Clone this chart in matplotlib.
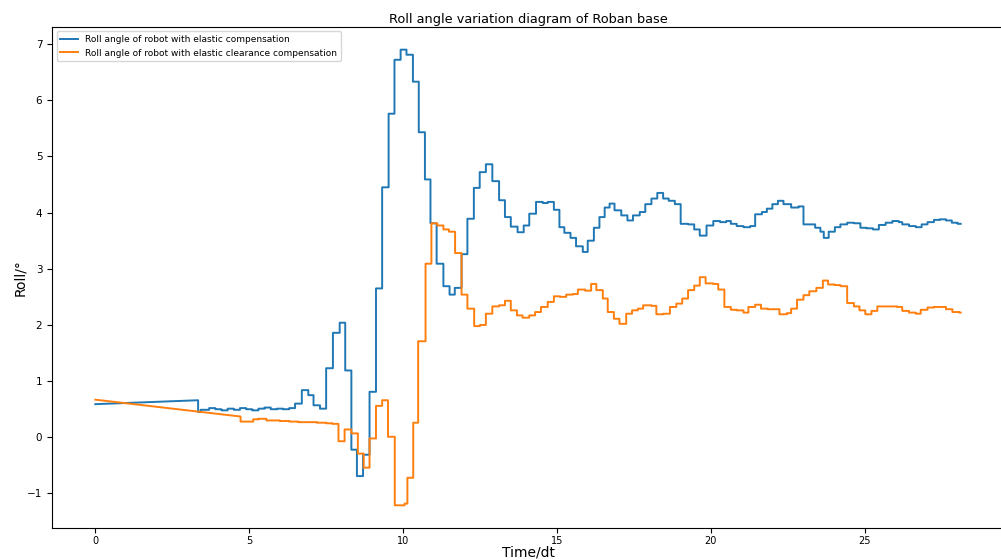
import matplotlib
matplotlib.use('Agg')
import matplotlib.pyplot as plt
import numpy as np

# roll angle of the base, held between IMU updates
# blue: elastic compensation, orange: elastic clearance compensation
blue_ramp_t = [0.0, 3.34]
blue_ramp_v = [0.59, 0.66]
blue_step_t = [3.34, 3.42, 3.70, 3.90, 4.10, 4.30, 4.50, 4.70, 4.90, 5.10,
               5.30, 5.50, 5.70, 5.90, 6.10, 6.30, 6.49, 6.71, 6.92, 7.09,
               7.30, 7.50, 7.72, 7.94, 8.12, 8.32, 8.50, 8.70, 8.91, 9.12,
               9.32, 9.53, 9.72, 9.92, 10.11, 10.32, 10.51, 10.71, 10.89, 11.09,
               11.31, 11.51, 11.68, 11.90, 12.09, 12.30, 12.49, 12.69, 12.90, 13.12,
               13.31, 13.50, 13.72, 13.92, 14.10, 14.32, 14.54, 14.70, 14.90, 15.08,
               15.24, 15.44, 15.62, 15.84, 16.00, 16.20, 16.38, 16.55, 16.71, 16.87,
               17.09, 17.29, 17.47, 17.69, 17.87, 18.07, 18.26, 18.45, 18.63, 18.83,
               19.02, 19.26, 19.46, 19.64, 19.86, 20.08, 20.30, 20.50, 20.65, 20.84,
               21.06, 21.28, 21.44, 21.66, 21.82, 22.00, 22.18, 22.36, 22.61, 22.85,
               23.01, 23.39, 23.56, 23.67, 23.83, 24.03, 24.21, 24.43, 24.65, 24.86,
               25.06, 25.27, 25.46, 25.68, 25.90, 26.11, 26.22, 26.44, 26.66, 26.85,
               27.04, 27.25, 27.44, 27.64, 27.83, 28.02]
blue_step_v = [0.45, 0.49, 0.52, 0.50, 0.48, 0.51, 0.49, 0.52, 0.50, 0.48,
               0.51, 0.53, 0.50, 0.51, 0.50, 0.52, 0.60, 0.84, 0.75, 0.57,
               0.51, 1.23, 1.86, 2.04, 1.19, -0.22, -0.69, -0.31, 0.81, 2.65,
               4.45, 5.76, 6.72, 6.90, 6.81, 6.33, 5.43, 4.59, 3.81, 3.09,
               2.69, 2.54, 2.66, 3.26, 3.89, 4.44, 4.72, 4.86, 4.56, 4.22,
               3.92, 3.75, 3.65, 3.77, 3.98, 4.19, 4.17, 4.19, 4.05, 3.74,
               3.64, 3.55, 3.40, 3.30, 3.50, 3.73, 3.92, 4.09, 4.16, 4.04,
               3.95, 3.86, 3.95, 4.01, 4.15, 4.25, 4.35, 4.25, 4.21, 4.15,
               3.80, 3.79, 3.70, 3.59, 3.77, 3.85, 3.83, 3.85, 3.80, 3.76,
               3.74, 3.76, 3.97, 4.01, 4.07, 4.15, 4.21, 4.15, 4.09, 4.11,
               3.79, 3.73, 3.66, 3.55, 3.66, 3.74, 3.79, 3.82, 3.81, 3.73,
               3.72, 3.70, 3.78, 3.82, 3.85, 3.83, 3.79, 3.76, 3.74, 3.79,
               3.83, 3.87, 3.88, 3.86, 3.82, 3.80]
blue_end = 28.12

orange_ramp_t = [0.0, 4.72]
orange_ramp_v = [0.67, 0.37]
orange_step_t = [4.72, 5.13, 5.30, 5.56, 5.80, 6.00, 6.30, 6.60, 6.90, 7.20,
                 7.50, 7.70, 7.90, 8.10, 8.32, 8.53, 8.72, 8.91, 9.12, 9.32,
                 9.51, 9.73, 10.05, 10.14, 10.33, 10.49, 10.73, 10.92, 11.11, 11.31,
                 11.49, 11.69, 11.90, 12.09, 12.31, 12.50, 12.69, 12.90, 13.12, 13.31,
                 13.50, 13.70, 13.88, 14.10, 14.29, 14.48, 14.70, 14.90, 15.10, 15.30,
                 15.52, 15.68, 15.92, 16.11, 16.28, 16.49, 16.65, 16.85, 17.03, 17.25,
                 17.44, 17.63, 17.80, 18.07, 18.23, 18.45, 18.67, 18.88, 19.07, 19.26,
                 19.46, 19.64, 19.83, 20.08, 20.24, 20.44, 20.65, 20.84, 21.06, 21.22,
                 21.44, 21.63, 21.85, 22.04, 22.23, 22.47, 22.61, 22.80, 23.01, 23.20,
                 23.43, 23.64, 23.81, 24.03, 24.21, 24.43, 24.65, 24.83, 25.02, 25.22,
                 25.41, 25.63, 25.84, 26.06, 26.22, 26.44, 26.66, 26.82, 27.04, 27.25,
                 27.44, 27.64, 27.85, 28.07]
orange_step_v = [0.28, 0.32, 0.33, 0.30, 0.30, 0.29, 0.28, 0.27, 0.27, 0.26,
                 0.25, 0.24, -0.07, 0.14, 0.07, -0.29, -0.54, -0.02, 0.56, 0.66,
                 0.01, -1.21, -1.18, -0.72, 0.26, 1.71, 3.09, 3.81, 3.77, 3.70,
                 3.66, 3.28, 2.54, 2.29, 1.98, 2.00, 2.20, 2.33, 2.35, 2.43,
                 2.26, 2.17, 2.13, 2.17, 2.23, 2.32, 2.41, 2.51, 2.50, 2.54,
                 2.55, 2.63, 2.61, 2.73, 2.62, 2.47, 2.23, 2.11, 2.02, 2.20,
                 2.26, 2.29, 2.35, 2.34, 2.19, 2.20, 2.32, 2.38, 2.47, 2.62,
                 2.70, 2.85, 2.74, 2.73, 2.63, 2.32, 2.27, 2.26, 2.22, 2.32,
                 2.36, 2.29, 2.28, 2.28, 2.19, 2.21, 2.29, 2.45, 2.53, 2.60,
                 2.66, 2.79, 2.72, 2.71, 2.69, 2.39, 2.33, 2.26, 2.19, 2.25,
                 2.33, 2.33, 2.33, 2.32, 2.25, 2.22, 2.20, 2.27, 2.31, 2.32,
                 2.32, 2.28, 2.23, 2.22]
orange_end = 28.12


def held_series(ramp_t, ramp_v, step_t, step_v, t_end):
    # linear gap at the start, then zero-order hold
    edges = list(step_t[1:]) + [t_end]
    x = list(ramp_t)
    y = list(ramp_v)
    for t0, t1, v in zip(step_t, edges, step_v):
        x += [t0, t1]
        y += [v, v]
    return np.array(x), np.array(y)


bx, by = held_series(blue_ramp_t, blue_ramp_v, blue_step_t, blue_step_v, blue_end)
ox, oy = held_series(orange_ramp_t, orange_ramp_v, orange_step_t, orange_step_v, orange_end)

fig = plt.figure(figsize=(10.01, 5.6), dpi=100)
ax = fig.add_axes([0.052, 0.057, 0.951, 0.895])
ax.plot(bx, by, color='#1f77b4', lw=1.4, label="Roll angle of robot with elastic compensation")
ax.plot(ox, oy, color='#ff7f0e', lw=1.4, label="Roll angle of robot with elastic clearance compensation")
ax.set_title("Roll angle variation diagram of Roban base", fontsize=9.3, pad=3)
ax.set_xlabel("Time/dt", fontsize=10, labelpad=0)
ax.set_ylabel("Roll/°", fontsize=10, labelpad=0)
ax.tick_params(labelsize=7.5)
ax.tick_params(axis='x', pad=2, labelsize=7)
ax.legend(loc='upper left', fontsize=6.5)
fig.savefig("out.png", dpi=100)
